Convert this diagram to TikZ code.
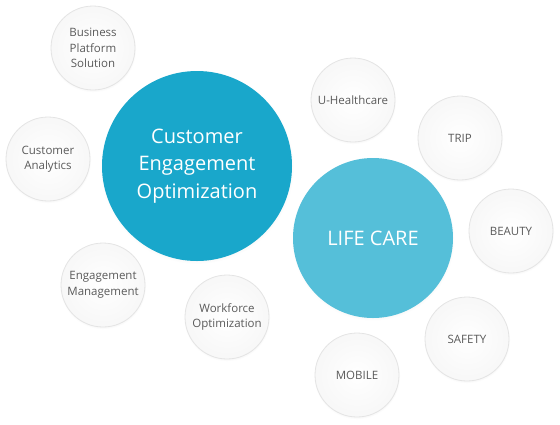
\documentclass[tikz,border=0pt]{standalone}
\usepackage{fontspec}
\setmainfont{Open Sans}
\usepackage{tikz}
\usetikzlibrary{shadows}

\definecolor{ceoblue}{HTML}{19A7CB}
\definecolor{lifeblue}{HTML}{55BFD9}
\definecolor{ringgray}{HTML}{E4E4E4}
\definecolor{labelgray}{HTML}{5A5A5A}

\tikzset{
  bubble/.style={circle, minimum size=84pt, inner sep=0pt, draw=ringgray, line width=0.8pt,
    inner color=white, outer color=gray!6, text=labelgray, align=center,
    font=\fontsize{11.5}{15.5}\selectfont,
    circular drop shadow={shadow xshift=0pt, shadow yshift=-1pt, opacity=0.15, shadow scale=1.03}},
  bigbubble/.style={circle, inner sep=0pt, text=white, align=center,
    font=\fontsize{20}{27.5}\selectfont,
    circular drop shadow={shadow xshift=0pt, shadow yshift=-1pt, opacity=0.18, shadow scale=1.02}}
}

\begin{document}
\begin{tikzpicture}[x=1pt, y=-1pt]
\useasboundingbox (0,0) rectangle (560,424);

% big circles
\node[bigbubble, fill=ceoblue, minimum size=190pt] (ceo) at (197,166) {Customer\\Engagement\\Optimization};
\node[bigbubble, fill=lifeblue, minimum size=160pt] (life) at (373,238) {LIFE CARE};

% left group
\node[bubble] (bps) at (93,48) {Business\\Platform\\Solution};
\node[bubble] (ca) at (48,159) {Customer\\Analytics};
\node[bubble] (em) at (103,285) {Engagement\\Management};
\node[bubble] (wo) at (227,317) {Workforce\\Optimization};

% right group
\node[bubble] (uh) at (353,100) {U-Healthcare};
\node[bubble] (trip) at (460,138) {TRIP};
\node[bubble] (beauty) at (511,231) {BEAUTY};
\node[bubble] (safety) at (467,339) {SAFETY};
\node[bubble] (mobile) at (357,375) {MOBILE};

\end{tikzpicture}
\end{document}
